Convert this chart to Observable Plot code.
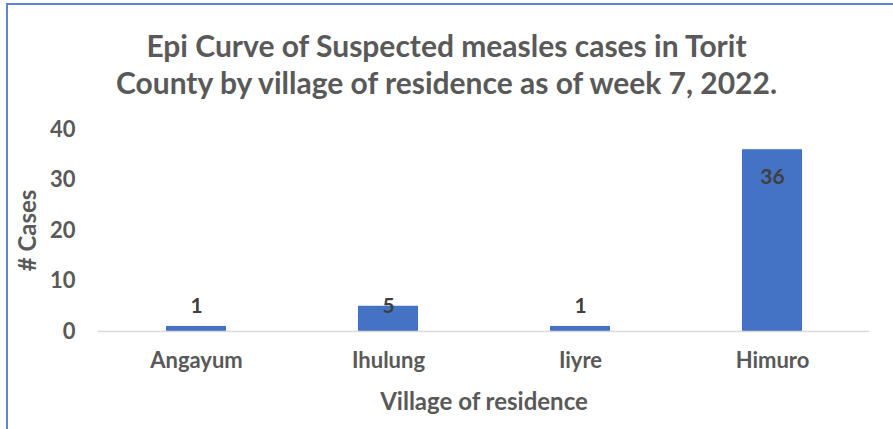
<!DOCTYPE html>
<html>
<head>
<meta charset="utf-8">
<script src="https://cdn.jsdelivr.net/npm/d3@7"></script>
<script src="https://cdn.jsdelivr.net/npm/@observablehq/plot@0.6"></script>
<style>
  html, body { margin: 0; padding: 0; background: #fff; }
  #wrap { position: relative; width: 893px; height: 429px; overflow: hidden; background: #fff; font-family: Lato, "Open Sans", sans-serif; }
  #frame { position: absolute; left: 6px; top: 3px; width: 900px; height: 440px; border-left: 2px solid #5B86D6; border-top: 2px solid #5B86D6; box-sizing: border-box; }
  #title { position: absolute; left: 0; top: 27px; width: 893px; text-align: center; font-weight: bold; font-size: 30px; line-height: 37px; color: #595959; }
  #chart { position: absolute; left: 0; top: 110px; }
</style>
</head>
<body>
<div id="wrap">
  <div id="frame"></div>
  <div id="title">Epi Curve of Suspected measles cases in Torit<br>County by village of residence as of week 7, 2022.</div>
  <div id="chart"></div>
</div>
<script>
const villages = ["Angayum", "Ihulung", "Iiyre", "Himuro"];
const cases = [1, 5, 1, 36];
const yTicks = [0, 10, 20, 30, 40];
const xTitle = "Village of residence";
const yTitle = "# Cases";

const data = villages.map((v, i) => ({village: v, cases: cases[i]}));

const plot = Plot.plot({
  width: 893,
  height: 319,
  marginTop: 19,
  marginBottom: 98,
  marginLeft: 98,
  marginRight: 24,
  style: {background: "transparent", fontFamily: "Lato, 'Open Sans', sans-serif", fontSize: "22px", fontWeight: "bold", color: "#595959"},
  x: {domain: villages, paddingInner: 0.69, paddingOuter: 0.345},
  y: {domain: [0, 40]},
  marks: [
    Plot.barY(data, {x: "village", y: "cases", fill: "#4472C4"}),
    Plot.ruleY([0], {stroke: "#D9D9D9", strokeWidth: 1.5}),
    Plot.axisY({ticks: yTicks, tickSize: 0, tickPadding: 23, fontSize: 22, label: null}),
    Plot.axisY({ticks: [], tickSize: 0, fontSize: 24, label: yTitle, labelAnchor: "center", labelOffset: 80, labelArrow: "none"}),
    Plot.axisX({tickSize: 0, tickPadding: 21, fontSize: 22, label: null}),
    Plot.axisX({ticks: [], tickSize: 0, fontSize: 24, label: xTitle, labelAnchor: "center", labelOffset: 78, labelArrow: "none"}),
    Plot.text(data.filter(d => d.cases < 3), {x: "village", y: "cases", text: d => String(d.cases), dy: -20, fill: "#404040", fontSize: 21, fontWeight: "bold"}),
    Plot.text(data.filter(d => d.cases >= 3 && d.cases < 30), {x: "village", y: "cases", text: d => String(d.cases), dy: 0, fill: "#404040", fontSize: 21, fontWeight: "bold"}),
    Plot.text(data.filter(d => d.cases >= 30), {x: "village", y: "cases", text: d => String(d.cases), dy: 28, fill: "#404040", fontSize: 21, fontWeight: "bold"})
  ]
});
document.getElementById("chart").appendChild(plot);
</script>
</body>
</html>
